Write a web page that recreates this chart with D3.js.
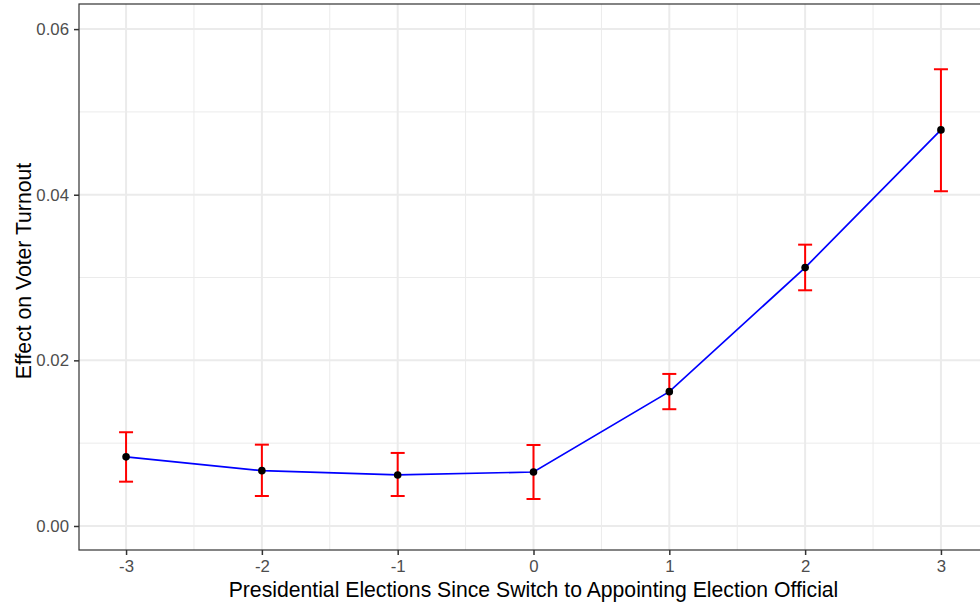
<html>
<head>
<meta charset="UTF-8">
<script src="https://d3js.org/d3.v7.min.js"></script>
<style>
  body { margin: 0; background: #fff; }
  text { font-family: "Liberation Sans", Arial, sans-serif; }
</style>
</head>
<body>
<svg id="chart" width="980" height="602"></svg>
<script>
// data
const periods  = [-3, -2, -1, 0, 1, 2, 3];
const estimate = [0.00835, 0.00668, 0.00616, 0.00652, 0.01622, 0.0312, 0.04783];
const lower    = [0.00535, 0.00362, 0.00362, 0.00326, 0.0141, 0.02846, 0.04042];
const upper    = [0.01132, 0.00982, 0.00882, 0.00978, 0.01836, 0.03397, 0.05515];
const yTicks   = [0, 0.02, 0.04, 0.06];
const yMinor   = [0.01, 0.03, 0.05];
const xMinor   = [-2.5, -1.5, -0.5, 0.5, 1.5, 2.5];

const data = periods.map((p, i) => ({p: p, est: estimate[i], lo: lower[i], hi: upper[i]}));

const svg = d3.select('#chart');
const panel = {left: 79, top: 4, right: 988, bottom: 550};

const x = d3.scaleLinear().domain([-3.3465, 3.3465]).range([panel.left, panel.right]);
const y = d3.scaleLinear().domain([-0.00290, 0.06303]).range([panel.bottom, panel.top]);

// grid
const grid = svg.append('g');
grid.selectAll('.ymin').data(yMinor).enter().append('line')
  .attr('x1', panel.left).attr('x2', panel.right)
  .attr('y1', d => y(d)).attr('y2', d => y(d))
  .attr('stroke', '#ebebeb').attr('stroke-width', 1);
grid.selectAll('.xmin').data(xMinor).enter().append('line')
  .attr('y1', panel.top).attr('y2', panel.bottom)
  .attr('x1', d => x(d)).attr('x2', d => x(d))
  .attr('stroke', '#ebebeb').attr('stroke-width', 1);
grid.selectAll('.ymaj').data(yTicks).enter().append('line')
  .attr('x1', panel.left).attr('x2', panel.right)
  .attr('y1', d => y(d)).attr('y2', d => y(d))
  .attr('stroke', '#ebebeb').attr('stroke-width', 2);
grid.selectAll('.xmaj').data(periods).enter().append('line')
  .attr('y1', panel.top).attr('y2', panel.bottom)
  .attr('x1', d => x(d)).attr('x2', d => x(d))
  .attr('stroke', '#ebebeb').attr('stroke-width', 2);

// error bars
const capW = 7;
const eb = svg.append('g').attr('stroke', '#ff0000').attr('stroke-width', 2);
eb.selectAll('.v').data(data).enter().append('line')
  .attr('x1', d => x(d.p)).attr('x2', d => x(d.p))
  .attr('y1', d => y(d.lo)).attr('y2', d => y(d.hi));
eb.selectAll('.t').data(data).enter().append('line')
  .attr('x1', d => x(d.p) - capW).attr('x2', d => x(d.p) + capW)
  .attr('y1', d => y(d.hi)).attr('y2', d => y(d.hi));
eb.selectAll('.b').data(data).enter().append('line')
  .attr('x1', d => x(d.p) - capW).attr('x2', d => x(d.p) + capW)
  .attr('y1', d => y(d.lo)).attr('y2', d => y(d.lo));

// line
svg.append('path').datum(data)
  .attr('d', d3.line().x(d => x(d.p)).y(d => y(d.est)))
  .attr('fill', 'none').attr('stroke', '#0000ff').attr('stroke-width', 1.7);

// points
svg.selectAll('.pt').data(data).enter().append('circle')
  .attr('cx', d => x(d.p)).attr('cy', d => y(d.est)).attr('r', 3.8)
  .attr('fill', '#000');

// panel border
svg.append('rect')
  .attr('x', panel.left).attr('y', panel.top)
  .attr('width', panel.right - panel.left).attr('height', panel.bottom - panel.top)
  .attr('fill', 'none').attr('stroke', '#333333').attr('stroke-width', 1.2);

// axes
const yAxis = svg.append('g').attr('transform', `translate(${panel.left},0)`)
  .call(d3.axisLeft(y).tickValues(yTicks).tickFormat(d3.format('.2f')).tickSize(5).tickPadding(5));
const xAxis = svg.append('g').attr('transform', `translate(0,${panel.bottom})`)
  .call(d3.axisBottom(x).tickValues(periods).tickFormat(d => d < 0 ? '-' + Math.abs(d) : d).tickSize(5).tickPadding(5));
[yAxis, xAxis].forEach(a => {
  a.select('.domain').remove();
  a.selectAll('.tick line').attr('stroke', '#333333').attr('stroke-width', 1.5);
  a.selectAll('.tick text').attr('fill', '#4d4d4d')
    .style('font-size', '16.8px').style('font-family', '"Liberation Sans", Arial, sans-serif');
});

// titles
svg.append('text')
  .attr('x', (panel.left + panel.right) / 2).attr('y', 596.5)
  .attr('text-anchor', 'middle').style('font-size', '21.2px')
  .text('Presidential Elections Since Switch to Appointing Election Official');
svg.append('text')
  .attr('transform', `translate(31,${(panel.top + panel.bottom) / 2 - 6}) rotate(-90)`)
  .attr('text-anchor', 'middle').style('font-size', '21.2px')
  .text('Effect on Voter Turnout');
</script>
</body>
</html>
